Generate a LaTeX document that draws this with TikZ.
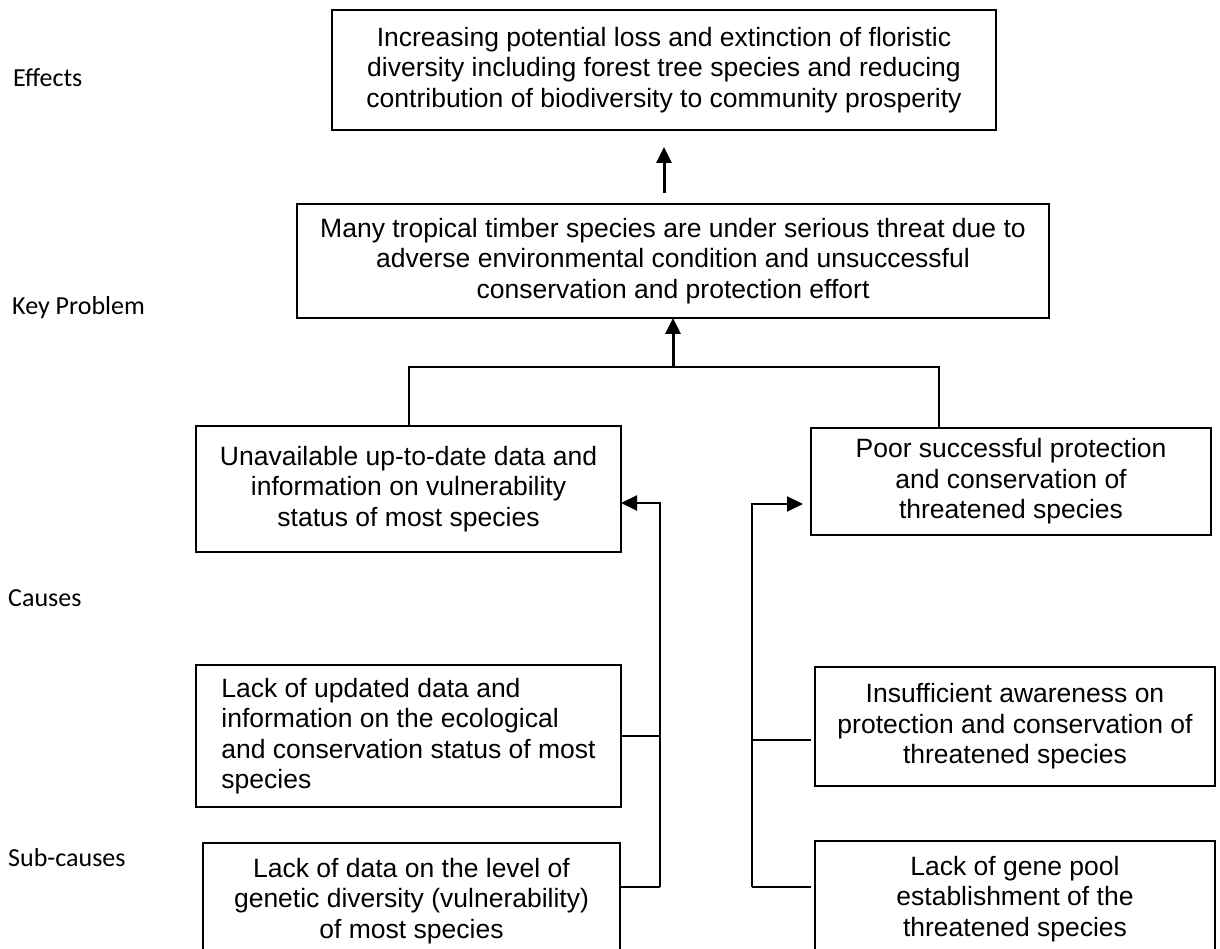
\documentclass[tikz,border=0pt]{standalone}
\usepackage{fontspec}
\usetikzlibrary{arrows.meta,positioning}
\newfontfamily\boxfamily{Liberation Sans}
\newfontfamily\labelfamily{Carlito}
\newcommand{\boxfont}{\boxfamily\fontsize{26.5}{30.5}\selectfont}
\newcommand{\labelfont}{\labelfamily\fontsize{26}{30}\selectfont}

\begin{document}
\begin{tikzpicture}[
    x=1pt, y=1pt,
    boxnode/.style={rectangle, draw, line width=2pt, outer sep=0pt, inner sep=0pt, align=center, font=\boxfont},
    levelnode/.style={anchor=base west, inner sep=0pt, font=\labelfont},
    link/.style={line width=2pt},
    arrow/.style={->, line width=3pt, >={Triangle[length=16pt, width=15pt]}},
    thinarrow/.style={arrow, line width=2pt}
]
\useasboundingbox (0,0) rectangle (1220,949);
\clip (0,0) rectangle (1220,949);

% Level labels
\node[levelnode] (effects-label) at (13,862) {Effects};
\node[levelnode] (key-label) at (12,634) {Key Problem};
\node[levelnode] (causes-label) at (8,342) {Causes};
\node[levelnode] (sub-label) at (8,82) {Sub-causes};

% Effects
\node[boxnode, minimum width=664pt, minimum height=120pt] (effects) at (664,879) {
    Increasing potential loss and extinction of floristic \\
    diversity including forest tree species and reducing \\
    contribution of biodiversity to community prosperity
};

% Key problem
\node[boxnode, minimum width=752pt, minimum height=114pt, below=74pt of effects, xshift=9pt] (key) {
    Many tropical timber species are under serious threat due to \\
    adverse environmental condition and unsuccessful \\
    conservation and protection effort
};

% Causes
\node[boxnode, minimum width=425pt, minimum height=126pt] (causeL) at (408.5,460) {
    Unavailable up-to-date data and \\
    information on vulnerability \\
    status of most species
};
\node[boxnode, minimum width=400pt, minimum height=107pt] (causeR) at (1011,467.5) {
    Poor successful protection \\
    and conservation of \\
    threatened species
};

% Sub-causes, left
\node[boxnode, align=left, minimum width=425pt, minimum height=142pt, below=113pt of causeL] (subL1) {
    Lack of updated data and \\
    information on the ecological \\
    and conservation status of most \\
    species
};
\node[boxnode, minimum width=417pt, minimum height=116pt, below=36pt of subL1, xshift=3pt] (subL2) {
    Lack of data on the level of \\
    genetic diversity (vulnerability) \\
    of most species
};

% Sub-causes, right
\node[boxnode, minimum width=400pt, minimum height=119pt, below=132pt of causeR, xshift=4pt] (subR1) {
    Insufficient awareness on \\
    protection and conservation of \\
    threatened species
};
\node[boxnode, minimum width=400pt, minimum height=116pt, below=55pt of subR1] (subR2) {
    Lack of gene pool \\
    establishment of the \\
    threatened species
};

% Causes -> key problem -> effects
\coordinate[below=49pt of key.south] (junc);
\draw[link] (causeL.north) |- (junc) -| ([xshift=128pt]causeR.north west);
\draw[arrow] (junc) -- (key.south);
\draw[arrow, shorten <=11pt, shorten >=17pt] (key.north -| effects.south) -- (effects.south);

% Left bus
\coordinate (busL-top) at (660,446);
\coordinate (busL-bot) at (660,62);
\draw[thinarrow] (busL-bot) -- (busL-top) -- (busL-top -| causeL.east);
\draw[link] (subL1.east) -- (subL1.east -| busL-top);
\draw[link] (busL-bot) -- (busL-bot -| subL2.east);

% Right bus
\coordinate (busR-top) at (752,445);
\coordinate (busR-mid) at (752,209);
\coordinate (busR-bot) at (752,62);
\draw[thinarrow, shorten >=8pt] (busR-bot) -- (busR-top) -- (busR-top -| causeR.west);
\draw[link, shorten >=4pt] (busR-mid) -- (busR-mid -| subR1.west);
\draw[link, shorten >=4pt] (busR-bot) -- (busR-bot -| subR2.west);

\end{tikzpicture}
\end{document}
